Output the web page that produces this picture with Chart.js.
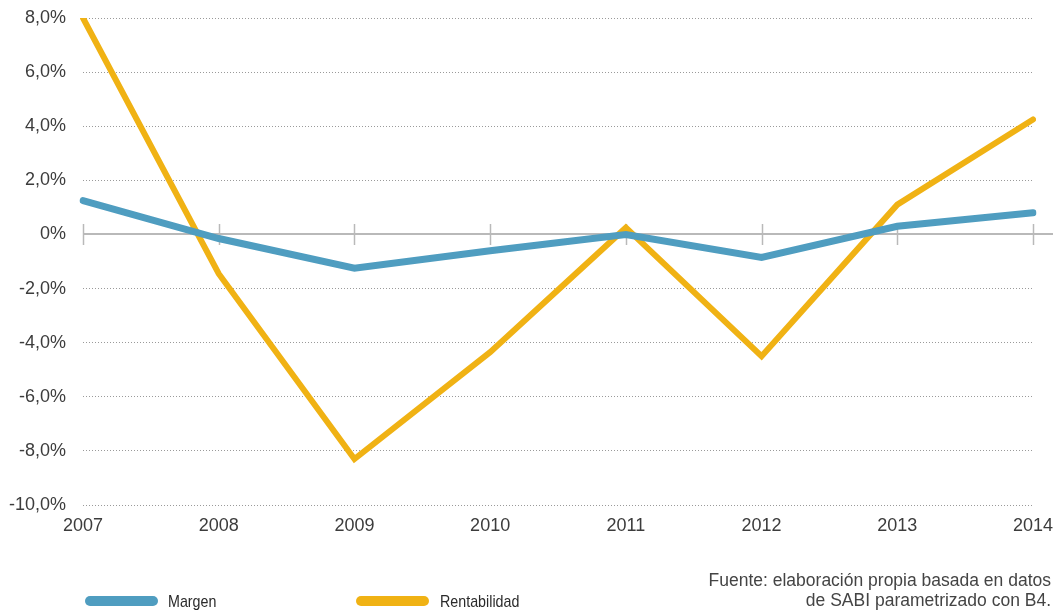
<!DOCTYPE html>
<html>
<head>
<meta charset="utf-8">
<script src="https://cdn.jsdelivr.net/npm/chart.js@4.4.1/dist/chart.umd.min.js"></script>
<style>
  html, body { margin: 0; padding: 0; background: #fff; }
  #wrap { width: 1058px; height: 614px; position: relative; }
</style>
</head>
<body>
<div id="wrap"><canvas id="newChart" width="1058" height="614"></canvas></div>
<script>
var years = ['2007', '2008', '2009', '2010', '2011', '2012', '2013', '2014'];
var margen = [1.25, -0.15, -1.25, -0.6, 0.0, -0.85, 0.3, 0.8];
var rentabilidad = [8.0, -1.45, -8.3, -4.35, 0.25, -4.5, 1.1, 4.25];
var seriesNames = ['Margen', 'Rentabilidad'];
var seriesColors = ['#4f9dc0', '#f0b214'];
var sourceLines = ['Fuente: elaboración propia basada en datos', 'de SABI parametrizado con B4.'];

var axisFont = { family: "'Liberation Sans', Arial, sans-serif", size: 18 };

function pct(v) {
	if (v === 0) return '0%';
	return v.toFixed(1).replace('.', ',') + '%';
}

// solid zero line with small tick marks at every year, under the lines
var zeroAxis = {
	id: 'zeroAxis',
	beforeDatasetsDraw: function(chart) {
		var ctx = chart.ctx, x = chart.scales.x, y = chart.scales.y;
		var y0 = Math.round(y.getPixelForValue(0));
		ctx.save();
		ctx.strokeStyle = '#b9b9b9';
		ctx.lineWidth = 2;
		ctx.beginPath();
		ctx.moveTo(x.left, y0);
		ctx.lineTo(x.right + 20, y0);
		ctx.stroke();
		ctx.lineWidth = 1.5;
		years.forEach(function(label, i) {
			var px = Math.round(x.getPixelForValue(i)) + 0.5;
			ctx.beginPath();
			ctx.moveTo(px, y0 - 10);
			ctx.lineTo(px, y0 + 11);
			ctx.stroke();
		});
		ctx.restore();
	}
};

// legend bars and the source note along the bottom
var footer = {
	id: 'footer',
	afterDraw: function(chart) {
		var ctx = chart.ctx;
		var items = [{ x: 85, text: 168 }, { x: 356, text: 440 }];
		ctx.save();
		items.forEach(function(it, i) {
			ctx.strokeStyle = seriesColors[i];
			ctx.lineWidth = 10;
			ctx.lineCap = 'round';
			ctx.beginPath();
			ctx.moveTo(it.x + 5, 601);
			ctx.lineTo(it.x + 68, 601);
			ctx.stroke();
			// condensed label
			ctx.save();
			ctx.translate(it.text, 602);
			ctx.scale(0.84, 1);
			ctx.fillStyle = '#2a2a2a';
			ctx.font = "17px 'Liberation Sans', Arial, sans-serif";
			ctx.textBaseline = 'middle';
			ctx.textAlign = 'left';
			ctx.fillText(seriesNames[i], 0, 0);
			ctx.restore();
		});
		ctx.fillStyle = '#444';
		ctx.font = "17.5px 'Liberation Sans', Arial, sans-serif";
		ctx.textAlign = 'right';
		ctx.textBaseline = 'middle';
		ctx.fillText(sourceLines[0], 1051, 581);
		ctx.fillText(sourceLines[1], 1051, 601);
		ctx.restore();
	}
};

var chart = new Chart(document.getElementById('newChart').getContext('2d'), {
	type: 'line',
	data: {
		labels: years,
		datasets: [{
			label: seriesNames[0],
			data: margen,
			borderColor: seriesColors[0],
			borderWidth: 7,
			borderCapStyle: 'round',
			borderJoinStyle: 'miter',
			pointRadius: 0,
			tension: 0,
			fill: false
		}, {
			label: seriesNames[1],
			data: rentabilidad,
			borderColor: seriesColors[1],
			borderWidth: 6,
			borderCapStyle: 'round',
			borderJoinStyle: 'miter',
			pointRadius: 0,
			tension: 0,
			fill: false
		}]
	},
	options: {
		responsive: false,
		animation: false,
		layout: { padding: { top: 18, right: 25, left: 0, bottom: 0 } },
		plugins: {
			legend: { display: false },
			tooltip: { enabled: false }
		},
		scales: {
			x: {
				offset: false,
				grid: { display: false, drawTicks: false },
				border: { display: false },
				ticks: { color: '#3c3c3c', font: axisFont, padding: 10, maxRotation: 0, autoSkip: false },
				afterFit: function(scale) {
					scale.height = 109;
					scale.paddingLeft = 0;
					scale.paddingRight = 0;
				}
			},
			y: {
				min: -10,
				max: 8,
				grid: { color: '#9a9a9a', lineWidth: 1, drawTicks: false },
				border: { display: false, dash: [1, 2] },
				ticks: { stepSize: 2, color: '#3c3c3c', font: axisFont, padding: 17, callback: pct },
				afterFit: function(scale) {
					scale.width = 83;
					scale.paddingTop = 0;
					scale.paddingBottom = 0;
				}
			}
		}
	},
	plugins: [zeroAxis, footer]
});
</script>
</body>
</html>
